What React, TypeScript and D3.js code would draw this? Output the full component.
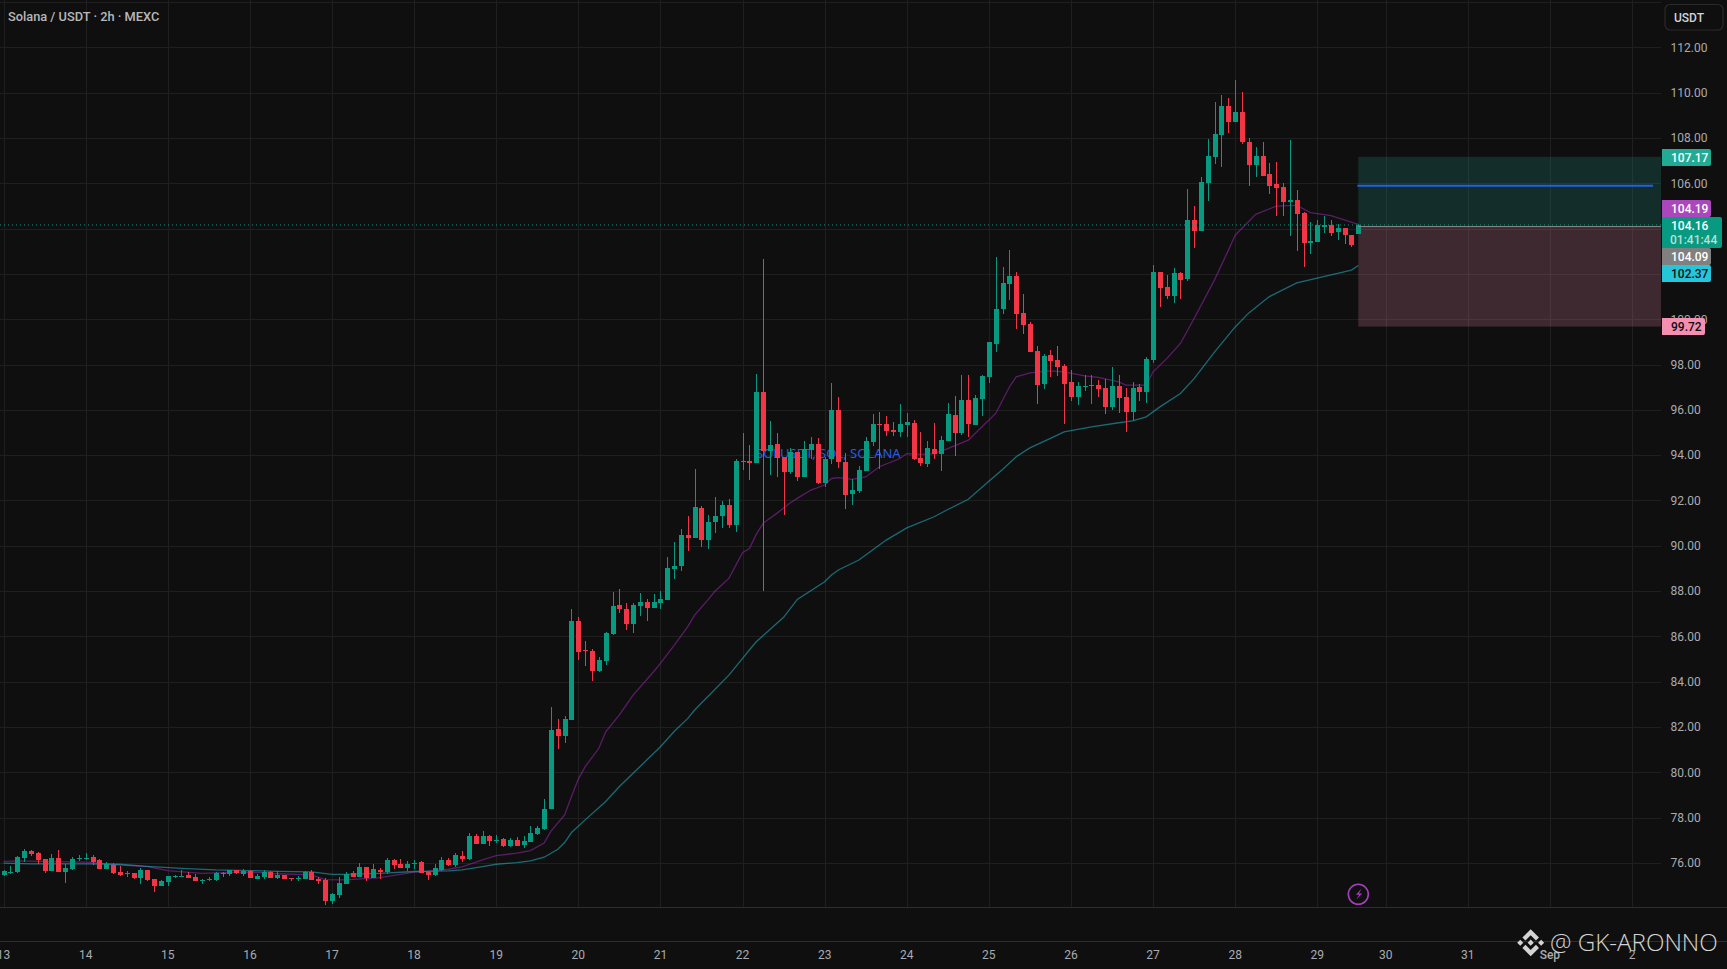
import React from "react";
import * as d3 from "d3";

const opens = [
75.47,75.60,75.60,76.22,76.53,76.44,76.18,75.65,76.22,75.60,
75.74,76.18,76.21,76.26,76.13,75.74,75.91,75.60,75.55,75.56,
75.34,75.69,75.29,74.99,75.16,75.40,75.41,75.47,75.38,75.24,
75.28,75.25,75.57,75.51,75.69,75.51,75.65,75.29,75.38,75.60,
75.34,75.47,75.33,75.31,75.29,75.60,75.29,75.25,74.32,74.59,
75.07,75.56,75.38,75.82,75.34,75.69,75.60,76.13,75.96,75.78,
75.98,76.04,75.60,75.47,75.69,76.13,75.91,76.31,76.18,77.19,
76.84,77.19,76.99,77.06,76.75,77.01,76.79,76.93,77.28,77.50,
78.38,81.91,81.60,82.31,86.68,85.41,85.35,84.47,84.91,86.10,
87.38,87.21,86.54,87.34,87.51,87.25,87.47,87.60,88.97,89.10,
90.47,90.34,91.66,90.25,91.04,91.31,91.79,90.91,93.74,93.74,
93.65,96.78,94.18,94.49,93.91,93.25,94.13,93.03,94.22,94.49,
92.76,93.82,95.99,93.69,92.28,92.41,93.29,94.57,95.37,95.37,
95.10,95.01,95.32,95.41,93.87,93.60,94.26,94.04,94.62,95.76,
94.97,96.43,95.32,96.47,97.44,98.90,100.44,101.54,101.90,100.26,
99.78,98.59,97.13,98.41,98.19,97.93,97.22,96.56,97.02,97.06,
97.09,96.96,96.12,97.04,96.56,95.90,97.00,96.78,98.19,102.07,
101.41,101.01,102.03,101.76,104.37,103.88,106.00,107.15,108.12,109.40,
108.69,109.13,107.81,106.79,107.19,106.40,105.96,105.82,105.16,105.25,
104.68,103.35,103.40,104.06,104.15,103.84,104.01,103.71,103.75,
];
const closes = [
75.65,75.62,76.25,76.53,76.40,76.13,75.65,76.22,75.60,75.78,
76.18,76.21,76.23,76.04,75.74,75.96,75.56,75.47,75.57,75.34,
75.69,75.25,74.99,75.21,75.43,75.42,75.43,75.34,75.21,75.26,
75.31,75.56,75.54,75.69,75.56,75.65,75.34,75.43,75.60,75.34,
75.47,75.29,75.30,75.33,75.60,75.25,75.22,74.32,74.63,75.12,
75.51,75.38,75.82,75.34,75.74,75.60,76.13,75.91,75.78,75.96,
76.00,75.56,75.47,75.78,76.13,75.91,76.35,76.18,77.19,76.84,
77.19,76.97,77.03,76.75,77.01,76.75,76.97,77.32,77.54,78.38,
81.87,81.60,82.35,86.68,85.31,85.37,84.47,84.96,86.15,87.34,
87.21,86.54,87.38,87.51,87.25,87.51,87.65,89.01,89.10,90.47,
90.34,91.71,90.25,91.04,91.31,91.79,90.91,93.74,93.70,93.65,
96.78,94.18,94.44,93.87,93.25,94.13,93.03,94.26,94.49,92.76,
93.82,95.99,93.69,92.24,92.46,93.34,94.62,95.37,95.34,95.06,
95.01,95.37,95.46,93.82,93.65,94.31,94.04,94.66,95.81,94.97,
96.43,95.37,96.51,97.49,98.99,100.44,101.59,101.90,100.22,99.74,
98.54,97.09,98.37,98.15,97.88,97.13,96.56,97.04,97.06,97.10,
96.91,96.12,97.04,96.51,95.90,96.96,96.78,98.24,102.07,101.37,
101.01,102.03,101.72,104.37,103.88,106.04,107.19,108.16,109.40,108.69,
109.13,107.81,106.79,107.19,106.31,105.87,105.78,105.16,105.25,104.63,
103.35,103.44,104.15,104.15,103.79,104.01,103.71,103.26,104.16,
];
const highs = [
75.68,75.87,76.31,76.62,76.57,76.49,76.18,76.40,76.57,75.96,
76.25,76.35,76.44,76.35,76.18,76.04,75.99,75.87,75.65,75.56,
75.78,75.69,75.29,75.25,75.43,75.47,75.69,75.60,75.51,75.29,
75.38,75.60,75.60,75.69,75.69,75.74,75.69,75.51,75.69,75.65,
75.65,75.47,75.33,75.43,75.65,75.69,75.38,75.34,74.68,75.38,
75.60,75.65,76.00,75.82,75.96,75.78,76.22,76.18,76.18,76.09,
76.13,76.09,75.65,75.96,76.26,76.22,76.44,76.53,77.32,77.28,
77.41,77.24,77.24,77.10,77.10,77.15,77.19,77.63,77.63,78.82,
82.88,82.35,82.49,87.21,86.85,85.79,85.44,85.09,86.19,87.96,
88.09,87.47,87.47,87.91,87.65,87.87,88.00,89.50,90.16,90.74,
91.31,93.38,91.75,91.35,92.15,91.97,92.06,93.82,94.97,94.44,
97.57,102.66,95.50,94.97,93.91,94.32,94.13,94.62,94.79,94.75,
93.91,97.18,96.56,94.09,92.94,93.51,94.79,95.81,95.90,95.72,
95.46,96.25,95.85,95.54,95.01,94.62,95.41,94.84,96.29,96.60,
97.53,97.53,96.65,97.53,98.99,102.74,102.29,103.04,102.07,101.10,
99.87,98.81,98.46,98.63,98.81,98.01,97.75,97.22,97.53,97.53,
97.31,97.35,97.88,97.53,96.96,97.22,97.13,98.32,102.38,102.07,
101.94,102.25,102.07,105.74,104.99,106.26,107.94,109.57,109.88,109.75,
110.54,110.01,107.99,107.59,107.81,106.88,106.93,106.00,107.90,105.69,
104.72,104.28,104.37,104.54,104.37,104.19,104.01,103.71,104.20,
];
const lows = [
75.41,75.51,75.57,76.06,76.31,75.93,75.56,75.65,75.60,75.12,
75.69,76.10,76.15,75.91,75.74,75.74,75.51,75.43,75.38,75.29,
75.07,75.21,74.72,74.99,74.99,75.34,75.38,75.34,75.21,75.07,
75.21,75.21,75.38,75.43,75.51,75.43,75.34,75.29,75.29,75.34,
75.29,75.29,75.22,75.21,75.29,75.25,75.09,74.15,74.19,74.46,
75.07,75.38,75.38,75.21,75.34,75.29,75.51,75.74,75.78,75.65,
75.74,75.56,75.25,75.43,75.65,75.87,75.82,76.04,76.13,76.84,
76.84,76.75,76.88,76.71,76.71,76.75,76.66,76.93,77.24,77.46,
78.38,81.03,81.29,82.31,84.96,84.69,84.03,84.43,84.74,86.06,
87.03,86.28,86.15,86.90,86.68,87.25,87.21,87.60,88.53,88.88,
89.76,90.34,89.94,89.85,90.56,90.78,90.78,90.60,93.34,92.90,
93.65,88.00,93.12,93.03,91.35,93.16,92.85,93.03,93.85,92.72,
92.59,93.60,93.43,91.62,91.79,92.32,93.29,94.40,93.38,94.84,
94.84,94.79,94.79,93.78,93.51,93.47,93.82,93.29,94.62,93.96,
94.88,94.79,95.32,95.72,97.18,98.54,100.22,100.84,99.56,99.34,
98.54,96.25,96.91,97.44,97.49,95.37,96.38,96.21,96.82,96.25,
96.56,95.81,95.99,95.85,95.01,95.50,96.38,96.29,98.06,100.53,
100.88,100.71,100.88,101.70,103.13,103.88,105.20,106.84,106.71,108.21,
108.69,107.72,105.87,106.26,106.31,105.51,104.54,104.54,103.66,103.00,
102.29,102.87,103.40,103.79,103.66,103.49,103.31,103.18,103.75,
];

const fastBars = [0,2,7,12,14,17,21,24,29,34,38,40,45,47,50,55,60,62,65,67,70,72,75,77,79,80,82,83,84,85,87,88,90,92,95,96,98,100,101,103,104,106,108,109,110,111,113,115,116,118,120,121,122,124,126,128,131,132,134,136,138,140,141,143,145,147,148,150,153,155,158,160,163,164,167,168,170,172,174,177,179,180,183,186,189,191,194,198];
const fastValues = [76.07,76.09,76.06,76.03,75.99,75.90,75.84,75.66,75.54,75.59,75.57,75.52,75.47,75.26,75.25,75.35,75.59,75.63,75.72,75.82,76.13,76.32,76.43,76.54,76.88,77.40,78.12,78.93,79.70,80.25,81.06,81.79,82.53,83.41,84.44,84.81,85.60,86.43,86.94,87.63,88.00,88.56,89.69,89.88,90.50,90.99,91.43,91.90,92.09,92.46,92.68,92.97,93.01,92.93,93.04,93.49,93.85,94.07,94.03,94.07,94.29,94.54,94.66,95.25,95.84,97.01,97.46,97.63,97.72,97.68,97.50,97.43,97.24,97.09,97.09,97.68,98.26,98.93,100.03,101.75,103.04,103.71,104.63,104.99,105.03,104.71,104.57,104.19];

const slowBars = [0,4,12,17,21,26,31,36,40,45,48,50,55,60,65,67,70,72,75,77,79,81,82,83,85,88,90,94,96,98,100,101,106,108,109,110,114,116,120,121,122,125,127,129,132,136,138,141,144,146,148,150,153,155,159,163,165,167,169,172,174,177,180,182,185,189,197,198];
const slowValues = [75.99,75.96,75.96,75.94,75.85,75.76,75.69,75.66,75.63,75.60,75.49,75.49,75.54,75.62,75.65,75.69,75.84,75.94,76.01,76.09,76.25,76.60,76.90,77.34,77.90,78.71,79.37,80.54,81.13,81.80,82.38,82.75,84.29,85.03,85.40,85.76,86.84,87.63,88.41,88.71,88.93,89.37,89.81,90.25,90.79,91.28,91.60,92.05,92.85,93.37,93.93,94.32,94.74,95.03,95.25,95.43,95.51,95.69,96.13,96.72,97.38,98.56,99.66,100.28,101.00,101.60,102.17,102.37];

const priceTicks = [114,112,110,108,106,104,102,100,98,96,94,92,90,88,86,84,82,80,78,76];
const priceTickHidden = [114,104,102];
const dateTickBars = [0,12,24,36,48,60,72,84,96,108,120,132,144,156,168,180,192,202,214,226,238];
const dateTickLabels = ["13","14","15","16","17","18","19","20","21","22","23","24","25","26","27","28","29","30","31","Sep","2"];

const targetPrice = 107.17;
const entryPrice = 104.09;
const stopPrice = 99.72;
const blueLinePrice = 105.89;
const lastPrice = 104.16;
const priceLabels = [
  { text: "107.17", cy: 157.4, fill: "#22ab94", color: "#ffffff" },
  { text: "104.19", cy: 208.4, fill: "#ab47bc", color: "#ffffff" },
  { text: "104.09", cy: 256.6, fill: "#808080", color: "#ffffff" },
  { text: "102.37", cy: 273.6, fill: "#26c6da", color: "#0f0f0f" },
];

const GREEN = "#089981";
const RED = "#f23645";
const BG = "#0f0f0f";
const GRID = "#1f1f1f";
const FONT = "Roboto, 'Open Sans', sans-serif";

export default function App() {
  const W = 1727, H = 969, chartR = 1661, chartB = 907;
  const x = d3.scaleLinear().domain([0, 238]).range([3.6, 1632]);
  const y = d3.scaleLinear().domain([76, 112]).range([862.9, 47.4]);
  const line = d3.line<[number, number]>().x(d => x(d[0])).y(d => y(d[1]));
  const fast = fastBars.map((b, i) => [b, fastValues[i]] as [number, number]);
  const slow = slowBars.map((b, i) => [b, slowValues[i]] as [number, number]);
  const boxL = x(198);
  const candleW = 5;
  const px = (v: number) => Math.round(v);
  const tagX = 1662, tagW = 49, tagH = 17;

  const tag = (l: { text: string; cy: number; fill: string; color: string }, w = tagW) => (
    <g key={l.text}>
      <path d={`M${tagX} ${l.cy - tagH / 2}h${w - 2}q2 0 2 2v${tagH - 4}q0 2 -2 2h${-(w - 2)}z`} fill={l.fill} />
      <text x={tagX + 9} y={l.cy + 4.3} fontSize={12} fontWeight={500} fill={l.color} fontFamily={FONT}>{l.text}</text>
    </g>
  );

  return (
    <svg width={W} height={H} viewBox={`0 0 ${W} ${H}`} style={{ position: "fixed", left: 0, top: 0, display: "block" }}>
      <defs>
        <clipPath id="plot"><rect x={0} y={0} width={chartR} height={chartB} /></clipPath>
      </defs>
      <rect width={W} height={H} fill={BG} />

      <g shapeRendering="crispEdges" stroke={GRID}>
        {priceTicks.map(p => <line key={p} x1={0} x2={chartR} y1={px(y(p))} y2={px(y(p))} />)}
        {dateTickBars.map(b => <line key={b} x1={px(x(b))} x2={px(x(b))} y1={0} y2={chartB} />)}
      </g>
      <line x1={0} x2={W} y1={907.5} y2={907.5} stroke="#2e2e2e" />
      <line x1={0} x2={W} y1={941.5} y2={941.5} stroke="#2e2e2e" />

      <text x={x(111) - 7} y={453} dy="0.35em" fontSize={13} fill="#2d5be0" fontFamily="'Noto Sans', sans-serif" textAnchor="start">SOLUSDT, SOL, SOLANA</text>

      <g clipPath="url(#plot)">
        <path d={line(fast) || ""} fill="none" stroke="#9c27b0" strokeOpacity={0.55} strokeWidth={1.3} />
        <path d={line(slow) || ""} fill="none" stroke="#26c6da" strokeOpacity={0.5} strokeWidth={1.3} />
        <rect x={boxL} y={y(targetPrice)} width={chartR - boxL} height={y(entryPrice) - y(targetPrice)} fill="#22ab94" fillOpacity={0.2} />
        <rect x={boxL} y={y(entryPrice)} width={chartR - boxL} height={y(stopPrice) + 1 - y(entryPrice)} fill="#f48fb1" fillOpacity={0.2} />
        <g shapeRendering="crispEdges">
          {opens.map((o, i) => {
            const c = closes[i];
            const col = c >= o ? GREEN : RED;
            const cx = px(x(i));
            const top = Math.round(y(Math.max(o, c)));
            const bot = Math.round(y(Math.min(o, c)));
            return (
              <g key={i}>
                <line x1={cx + 0.5} x2={cx + 0.5} y1={y(highs[i])} y2={y(lows[i])} stroke={col} strokeWidth={1} />
                <rect x={cx - 2} y={top} width={candleW} height={Math.max(1, bot - top)} fill={col} />
              </g>
            );
          })}
        </g>
        <line x1={boxL} x2={chartR} y1={y(entryPrice)} y2={y(entryPrice)} stroke="#8a8a8a" strokeWidth={1} />
        <line x1={boxL - 1} x2={1653} y1={y(blueLinePrice)} y2={y(blueLinePrice)} stroke="#2160e6" strokeWidth={2} />
        <line x1={0} x2={chartR} y1={y(lastPrice)} y2={y(lastPrice)} stroke={GREEN} strokeWidth={1} strokeDasharray="1 3" />
      </g>

      <g fontFamily={FONT} fontSize={12} fill="#a9abb0">
        {priceTicks.filter(p => !priceTickHidden.includes(p)).map(p => (
          <text key={p} x={1670.5} y={y(p)} dy="0.36em">{p.toFixed(2)}</text>
        ))}
      </g>
      <g fontFamily={FONT} fontSize={12} fill="#a9abb0" textAnchor="middle">
        {dateTickBars.map((b, i) => (
          <text key={b} x={x(b)} y={958.5} fontWeight={dateTickLabels[i] === "Sep" ? 500 : 400}>{dateTickLabels[i]}</text>
        ))}
      </g>

      {priceLabels.map(l => tag(l))}
      <path d={`M${tagX} 217h58q2 0 2 2v27q0 2 -2 2h-58z`} fill={GREEN} />
      <text x={1671} y={230} fontSize={12} fontWeight={500} fill="#ffffff" fontFamily={FONT}>{lastPrice.toFixed(2)}</text>
      <text x={1670} y={244} fontSize={12} fontWeight={500} fill="#b5e0d8" fontFamily={FONT}>01:41:44</text>
      {tag({ text: "99.72", cy: 326.5, fill: "#f48fb1", color: "#0f0f0f" }, 43)}

      <rect x={1665} y={4.5} width={58} height={25.5} rx={5} fill="none" stroke="#2a2a2a" strokeWidth={1.2} />
      <text x={1674} y={22} fontSize={12} fontWeight={500} fill="#d1d4dc" fontFamily={FONT}>USDT</text>

      <text x={8} y={21} fontSize={12.8} fontWeight={500} fill="#b8b8b8" fontFamily={FONT}>Solana / USDT · 2h · MEXC</text>

      <g>
        <circle cx={1358.3} cy={894.3} r={10} fill="none" stroke="#a63ec0" strokeWidth={1.6} />
        <path d="M1361.5 888.5l-5.5 6.3h3.2l-3 5 6-6.3h-3.3z" fill="#a63ec0" />
      </g>

      <g transform="translate(1517.2 929.2) scale(0.213)" fill="#d4d4d4">
        <path d="M38.73 53.2l24.59-24.58 24.6 24.6 14.3-14.31L63.32 0l-38.9 38.9 14.31 14.3z" />
        <path d="M0 63.31l14.3-14.31 14.31 14.31-14.31 14.3z" />
        <path d="M38.73 73.41l24.59 24.59 24.6-24.6 14.31 14.29-38.9 38.91-38.91-38.88-.02-.02 14.33-14.29z" />
        <path d="M98 63.31l14.3-14.31 14.31 14.3-14.31 14.32z" />
        <path d="M77.83 63.3L63.32 48.78 52.59 59.51l-1.24 1.23-2.54 2.54 14.51 14.5 14.51-14.47z" />
      </g>
      <text x={1550} y={951} fontSize={24.2} fontWeight={300} fill="#d4d4d4" fontFamily="'Open Sans', sans-serif">@ GK-ARONNO</text>
    </svg>
  );
}
